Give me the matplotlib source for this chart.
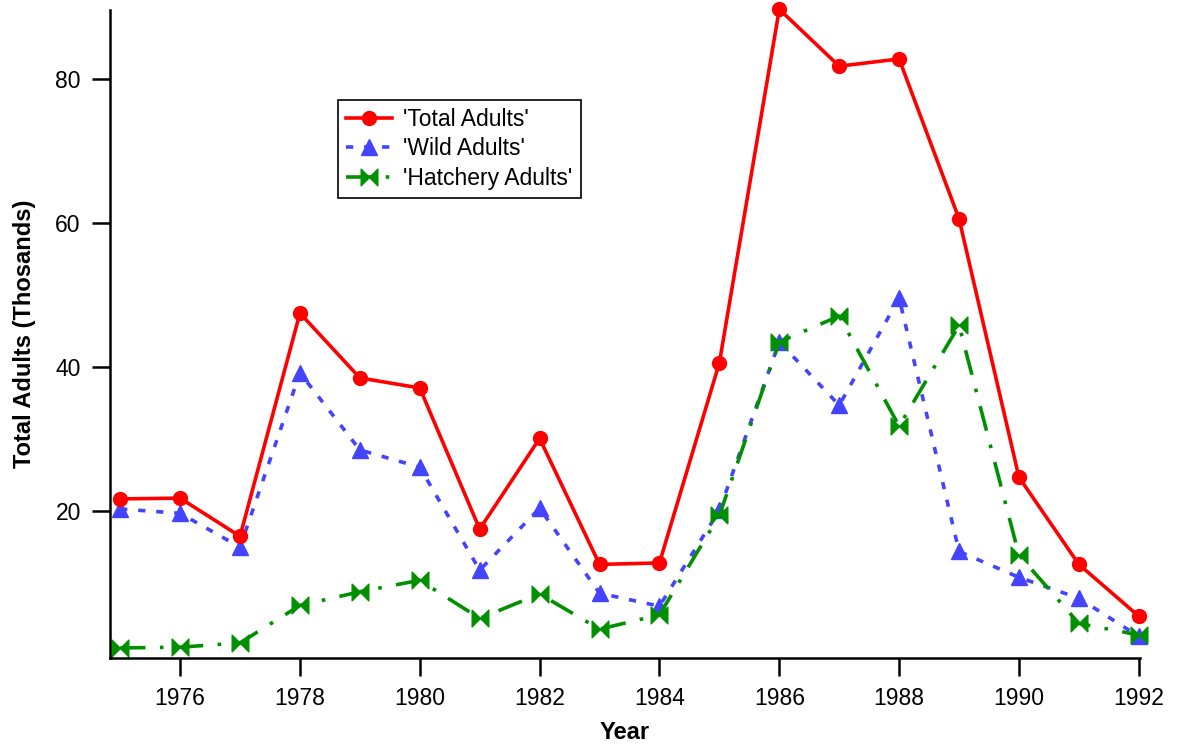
import numpy as np
import matplotlib
matplotlib.use("Agg")
import matplotlib.pyplot as plt
from matplotlib.path import Path

plt.rcParams['font.family'] = ['Liberation Sans', 'DejaVu Sans']

years = list(range(1975, 1993))
total_adults = [21.7, 21.8, 16.5, 47.5, 38.5, 37.1, 17.5, 30.1, 12.6, 12.8,
                40.6, 89.7, 81.8, 82.8, 60.6, 24.7, 12.6, 5.4]
wild_adults = [20.3, 19.7, 15.0, 39.2, 28.5, 26.1, 11.8, 20.4, 8.6, 6.8,
               20.1, 43.5, 34.7, 49.6, 14.4, 10.8, 7.9, 2.6]
hatchery_adults = [1.0, 1.1, 1.7, 6.9, 8.8, 10.4, 5.1, 8.5, 3.6, 5.6,
                   19.4, 43.5, 47.1, 31.8, 45.8, 13.9, 4.4, 2.8]

# bowtie marker: two triangles meeting in the middle
bowtie = Path([(-1, -1), (-1, 1), (0, 0), (1, 1), (1, -1), (0, 0), (-1, -1)],
              [Path.MOVETO, Path.LINETO, Path.LINETO, Path.LINETO,
               Path.LINETO, Path.LINETO, Path.CLOSEPOLY])

fig = plt.figure(figsize=(11.78, 7.47), dpi=100)
ax = fig.add_axes([110/1178, 1 - 658/747, 1030/1178, 648/747])

ax.plot(years, total_adults, color='#ff0000', lw=2.6, marker='o', ms=10,
        label="'Total Adults'", zorder=3, clip_on=False)
ax.plot(years, wild_adults, color='#4444ff', lw=2.6, ls=(0, (2, 3)),
        marker='^', ms=11, label="'Wild Adults'", zorder=2, clip_on=False)
ax.plot(years, hatchery_adults, color='#009000', lw=2.6, ls=(0, (7, 4, 1, 4)),
        marker=bowtie, ms=12, label="'Hatchery Adults'", zorder=2, clip_on=False)

ax.set_xlim(1974.83, 1992.02)
ax.set_ylim(-0.4, 89.6)
ax.set_xticks(range(1976, 1993, 2))
ax.set_yticks([20, 40, 60, 80])

for s in ['top', 'right']:
    ax.spines[s].set_visible(False)
for s in ['left', 'bottom']:
    ax.spines[s].set_linewidth(1.8)
ax.tick_params(direction='out', length=13, width=1.8, labelsize=16.5, pad=8)

ax.set_xlabel('Year', fontsize=17, fontweight='bold', labelpad=8)
ax.set_ylabel('Total Adults (Thosands)', fontsize=17, fontweight='bold', labelpad=14)

leg = ax.legend(loc='upper left', bbox_to_anchor=(338/1178, 1 - 100/747),
                bbox_transform=fig.transFigure, fontsize=16.5, fancybox=False,
                edgecolor='black', framealpha=1, borderaxespad=0,
                handlelength=2.0, labelspacing=0.28, borderpad=0.35,
                handletextpad=0.5)
leg.get_frame().set_linewidth(1.2)

fig.savefig('out.png', dpi=100)
